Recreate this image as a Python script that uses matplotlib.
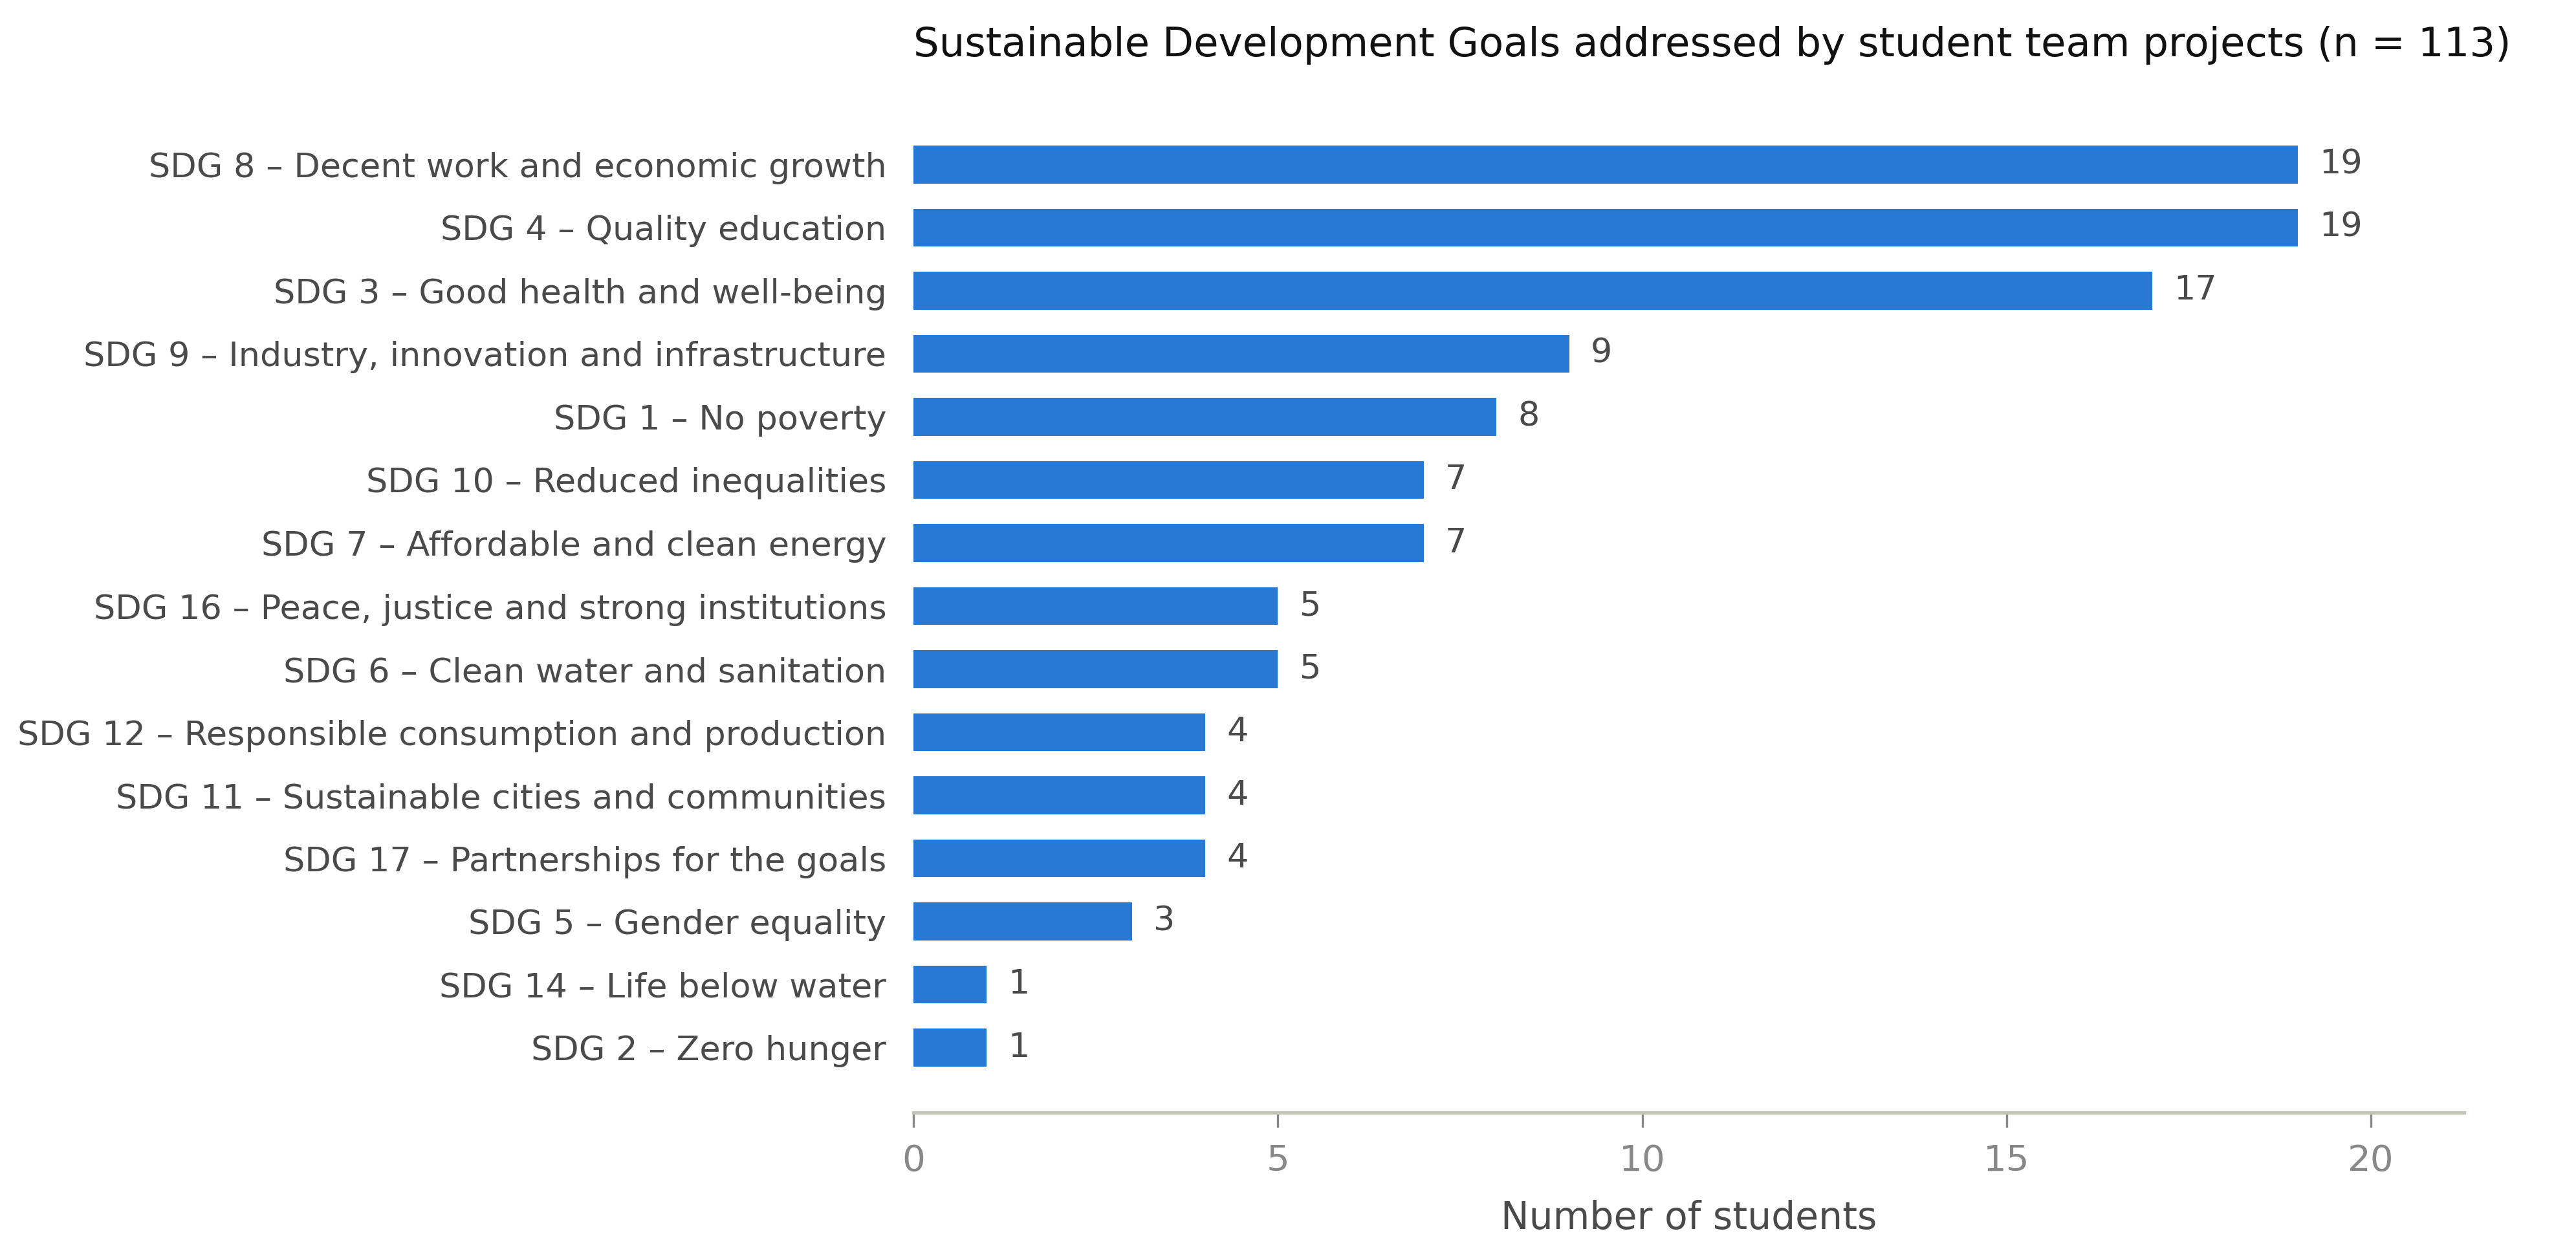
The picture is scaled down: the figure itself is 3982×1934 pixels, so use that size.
import numpy as np
import matplotlib
matplotlib.use('Agg')
import matplotlib.pyplot as plt

# Data, top to bottom as shown
goals = [
    'SDG 8 – Decent work and economic growth',
    'SDG 4 – Quality education',
    'SDG 3 – Good health and well-being',
    'SDG 9 – Industry, innovation and infrastructure',
    'SDG 1 – No poverty',
    'SDG 10 – Reduced inequalities',
    'SDG 7 – Affordable and clean energy',
    'SDG 16 – Peace, justice and strong institutions',
    'SDG 6 – Clean water and sanitation',
    'SDG 12 – Responsible consumption and production',
    'SDG 11 – Sustainable cities and communities',
    'SDG 17 – Partnerships for the goals',
    'SDG 5 – Gender equality',
    'SDG 14 – Life below water',
    'SDG 2 – Zero hunger',
]
counts = [19, 19, 17, 9, 8, 7, 7, 5, 5, 4, 4, 4, 3, 1, 1]
n_projects = 113

plt.rc('font', family='DejaVu Sans')

fig = plt.figure(figsize=(3982 / 300, 1934 / 300), dpi=300)
ax = fig.add_axes([0.3546, 0.1106, 0.6020, 0.8098])

y = np.arange(len(goals))
bars = ax.barh(y, counts, height=0.6, color='#2878D6')
ax.invert_yaxis()
ax.set_yticks(y)
ax.set_yticklabels(goals, fontsize=12.6, color='#4a4a4a')
ax.tick_params(axis='y', length=0, pad=10)

ax.bar_label(bars, labels=[str(c) for c in counts], padding=8,
             fontsize=12.6, color='#4a4a4a')

ax.set_xlim(0, max(counts) * 1.12)
ax.set_xticks([0, 5, 10, 15, 20])
ax.tick_params(axis='x', length=5.5, width=0.8, color='#888888',
               labelcolor='#888888', labelsize=13.5, pad=6)
ax.set_xlabel('Number of students', fontsize=14, color='#4a4a4a',
              labelpad=8)

for side in ['top', 'right', 'left']:
    ax.spines[side].set_visible(False)
ax.spines['bottom'].set_color('#c2c2b6')
ax.spines['bottom'].set_linewidth(1.3)

ax.set_title('Sustainable Development Goals addressed by student team '
             'projects (n = {})'.format(n_projects),
             loc='left', fontsize=15, color='#111111', pad=16)

fig.savefig('out.png', dpi=300)
